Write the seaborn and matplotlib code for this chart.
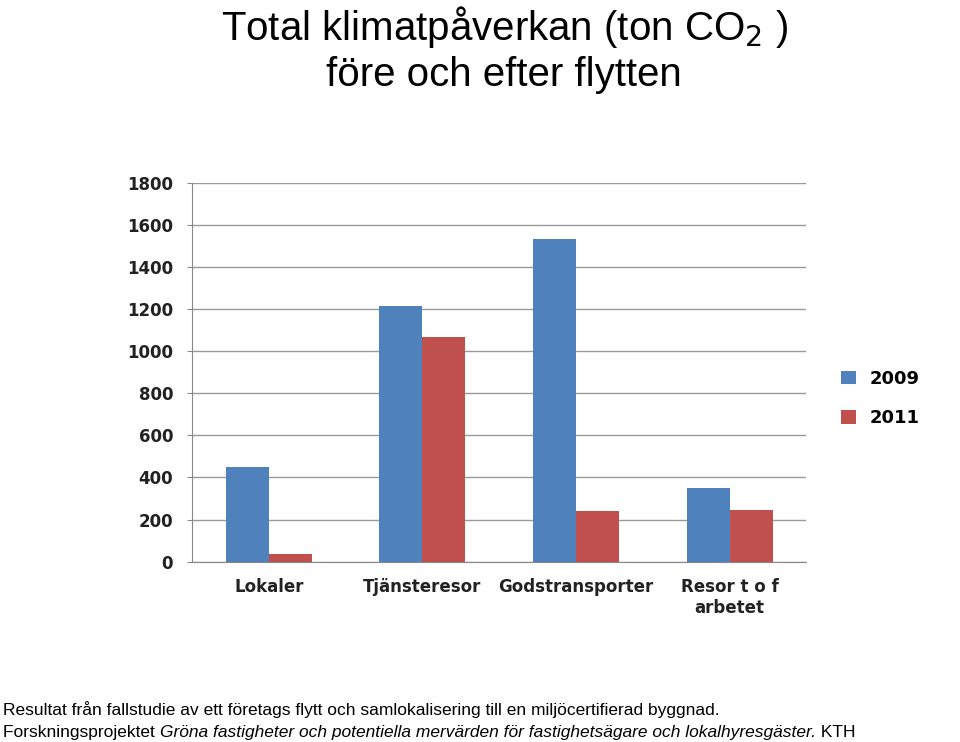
import matplotlib
matplotlib.use("Agg")
import matplotlib.pyplot as plt
import seaborn as sns
import pandas as pd

categories = ["Lokaler", "Tjänsteresor", "Godstransporter", "Resor t o f\narbetet"]
years = ["2009", "2011"]
values_2009 = [450, 1215, 1530, 350]
values_2011 = [35, 1065, 240, 245]

df = pd.DataFrame({
    "cat": categories * 2,
    "year": [years[0]] * 4 + [years[1]] * 4,
    "val": values_2009 + values_2011,
})

fig = plt.figure(figsize=(9.6, 7.42), dpi=100)
ax = fig.add_axes([0.2, 0.243, 0.64, 0.511])
sns.barplot(data=df, x="cat", y="val", hue="year", palette=["#4F81BD", "#C0504D"],
            width=0.56, ax=ax, saturation=1, legend=True)
ax.set_ylim(0, 1800)
ax.set_yticks(range(0, 1801, 200))
ax.yaxis.grid(True, color="#999999", linewidth=1)
ax.set_axisbelow(True)
for s in ["top", "right"]:
    ax.spines[s].set_visible(False)
for s in ["left", "bottom"]:
    ax.spines[s].set_color("#888888")
ax.set_xlabel("")
ax.set_ylabel("")
ax.tick_params(axis="both", colors="#888888", labelcolor="#222222", labelsize=12)
ax.tick_params(axis="x", pad=12, length=0)
ax.tick_params(axis="y", pad=10)
for lab in ax.get_xticklabels() + ax.get_yticklabels():
    lab.set_fontweight("bold")
ax.legend(loc="center left", bbox_to_anchor=(1.03, 0.43), frameon=False,
          prop={"size": 13, "weight": "bold"}, handlelength=0.8, handleheight=0.8,
          labelspacing=1.2)

fig.text(0.525, 0.995, "Total klimatpåverkan (ton CO$_2$ )", ha="center", va="top",
         fontsize=29, family="Liberation Sans")
fig.text(0.525, 0.925, "före och efter flytten", ha="center", va="top",
         fontsize=29, family="Liberation Sans")
fig.text(0.003, 0.033, "Resultat från fallstudie av ett företags flytt och samlokalisering till en miljöcertifierad byggnad.",
         ha="left", va="bottom", fontsize=12.5, family="Liberation Sans")

fig.canvas.draw()
r = fig.canvas.get_renderer()
x = 0.003
parts = [("Forskningsprojektet ", "normal"),
         ("Gröna fastigheter och potentiella mervärden för fastighetsägare och lokalhyresgäster.", "italic"),
         (" KTH", "normal")]
for txt, st in parts:
    t = fig.text(x, 0.003, txt, ha="left", va="bottom", fontsize=12.5,
                 family="Liberation Sans", style=st)
    bb = t.get_window_extent(renderer=r)
    x += bb.width / fig.bbox.width
fig.savefig("out.png", dpi=100)
